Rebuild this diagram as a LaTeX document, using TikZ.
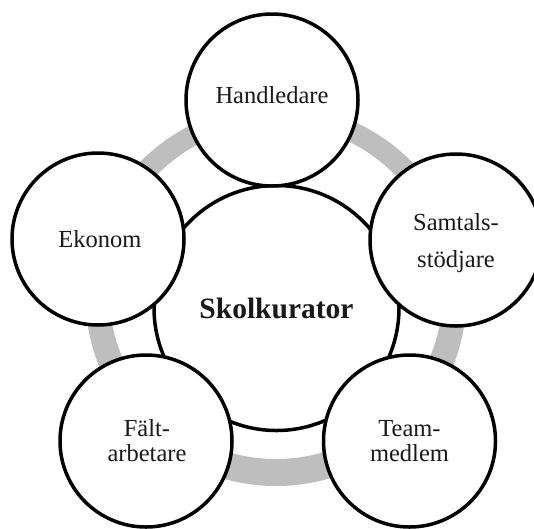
\documentclass[tikz,border=0pt]{standalone}
\usepackage{fontspec}
\setmainfont{Liberation Serif}
\definecolor{ringgray}{RGB}{190,190,190}
\tikzset{
  outer/.style={circle, draw=black, line width=3.5pt, fill=white, minimum size=172pt, inner sep=0pt},
  hub/.style={circle, draw=black, line width=3.5pt, fill=white, minimum size=245pt, inner sep=0pt},
  lbl/.style={font=\fontsize{24.5}{25}\selectfont, align=center, inner sep=0pt, text=black!90},
  hublbl/.style={font=\fontsize{29.5}{30}\selectfont\bfseries, inner sep=0pt, text=black!90}
}
\begin{document}
\begin{tikzpicture}[x=1pt, y=-1pt]
\useasboundingbox (0,0) rectangle (534,528);
\clip (0,0) rectangle (534,528);
% grey ring
\fill[ringgray, even odd rule] (276,295.5) circle[radius=190.5pt] (276,292) circle[radius=167pt];
% hub
\node[hub] (C) at (276.5,308) {};
% outer circles
\node[outer] (H) at (272,100) {};
\node[outer] (S) at (456,240) {};
\node[outer] (T) at (409.5,441) {};
\node[outer] (F) at (146,441) {};
\node[outer] (E) at (98,239) {};
% labels
\node[hublbl] (Ct) at (C.center) {Skolkurator};
\node[lbl] (Ht) at ([yshift=5pt]H.center) {Handledare};
\node[lbl, font=\fontsize{24.5}{37}\selectfont] (St) at ([yshift=-3pt]S.center) {Samtals-\\stödjare};
\node[lbl] (Tt) at (T.center) {Team-\\medlem};
\node[lbl] (Ft) at ([xshift=1pt]F.center) {Fält-\\arbetare};
\node[lbl] (Et) at ([xshift=2pt]E.center) {Ekonom};
\end{tikzpicture}
\end{document}
